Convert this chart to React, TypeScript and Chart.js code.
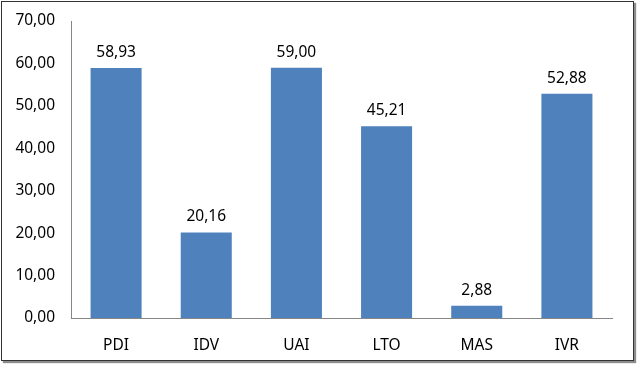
import React, { useEffect, useRef } from "react";
import { Chart, registerables } from "chart.js";

Chart.register(...registerables);

const categories = ["PDI", "IDV", "UAI", "LTO", "MAS", "IVR"];
const values = [58.93, 20.16, 59.0, 45.21, 2.88, 52.88];
const yMax = 70;
const yStep = 10;

const fmt = (v: number) => v.toFixed(2).replace(".", ",");
const FONT = "'Noto Sans', sans-serif";

const valueLabels = {
  id: "valueLabels",
  afterDatasetsDraw(chart: any) {
    const ctx = chart.ctx;
    const meta = chart.getDatasetMeta(0);
    ctx.save();
    ctx.font = `15.5px ${FONT}`;
    ctx.fillStyle = "#000000";
    ctx.textAlign = "center";
    ctx.textBaseline = "alphabetic";
    meta.data.forEach((el: any, i: number) => {
      ctx.fillText(fmt(values[i]), el.x, el.y - 11);
    });
    ctx.restore();
  },
};

export default function App() {
  const ref = useRef<HTMLCanvasElement>(null);
  useEffect(() => {
    if (!ref.current) return;
    const chart = new Chart(ref.current, {
      type: "bar",
      data: {
        labels: categories,
        datasets: [
          {
            data: values,
            backgroundColor: "#4F81BD",
            borderWidth: 0,
            barPercentage: 0.566,
            categoryPercentage: 1,
          },
        ],
      },
      options: {
        animation: false,
        responsive: false,
        maintainAspectRatio: false,
        layout: { padding: { top: 21, right: 28, left: 0, bottom: 0 } },
        plugins: { legend: { display: false }, tooltip: { enabled: false } },
        scales: {
          x: {
            grid: { display: false, drawTicks: false },
            border: { display: true, color: "#868686", width: 1 },
            ticks: { font: { family: FONT, size: 15.5 }, color: "#000000", padding: 18 },
            afterFit: (s: any) => {
              s.height = 50;
              s.paddingLeft = 0;
              s.paddingRight = 0;
            },
          },
          y: {
            min: 0,
            max: yMax,
            grid: { display: false, drawTicks: false },
            border: { display: true, color: "#868686", width: 1 },
            ticks: {
              stepSize: yStep,
              font: { family: FONT, size: 15.5 },
              color: "#000000",
              padding: 16,
              callback: (v: any) => fmt(Number(v)),
            },
            afterFit: (s: any) => {
              s.width = 71;
              s.paddingTop = 0;
              s.paddingBottom = 0;
            },
          },
        },
      },
      plugins: [valueLabels],
    });
    return () => chart.destroy();
  }, []);

  return (
    <div style={{ position: "fixed", left: 0, top: 0, width: 640, height: 368, background: "#ffffff" }}>
      <div
        style={{
          position: "absolute",
          left: 1,
          top: 1,
          width: 631,
          height: 358,
          border: "1px solid #333333",
          boxShadow: "2px 2px 1px #8c8c8c",
          background: "#ffffff",
        }}
      />
      <canvas ref={ref} width={640} height={368} style={{ position: "absolute", left: 0, top: 0 }} />
    </div>
  );
}
